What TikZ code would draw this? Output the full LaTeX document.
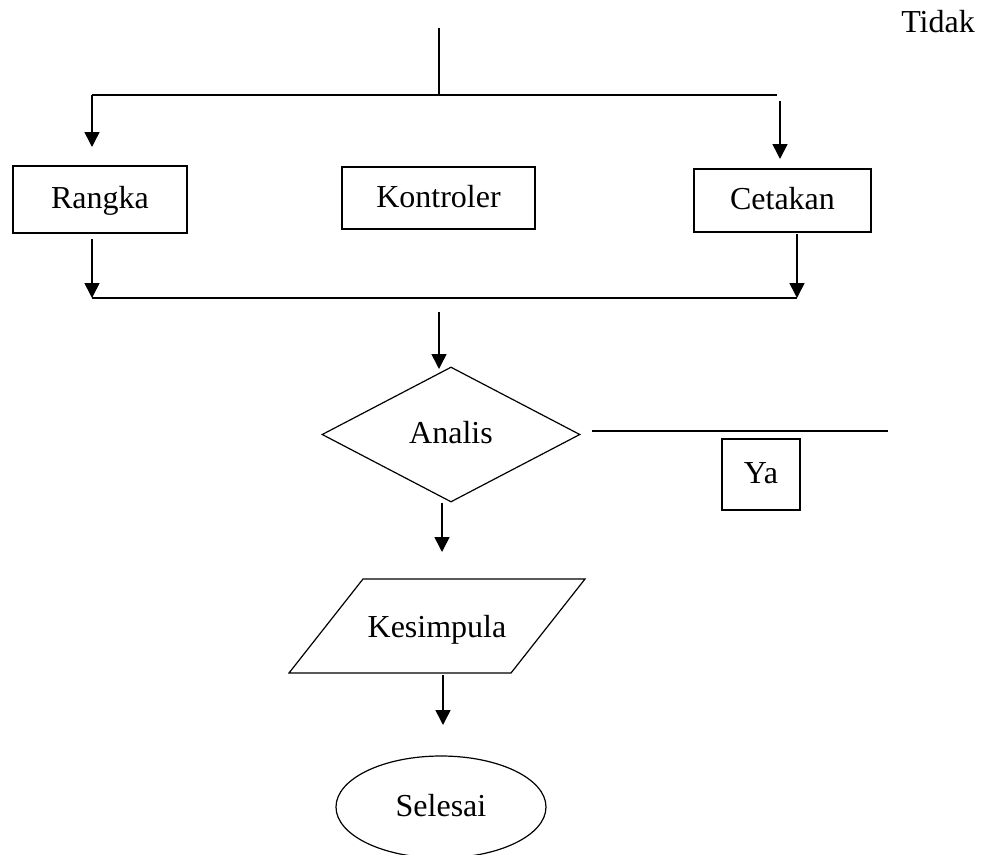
\documentclass[tikz,border=0pt]{standalone}
\usepackage{fontspec}
\setmainfont{Liberation Serif}
\usetikzlibrary{arrows.meta,shapes.geometric}

\begin{document}
\begin{tikzpicture}[x=1pt,y=-1pt,
    every node/.style={font=\fontsize{32}{38}\selectfont,text height=22pt,text depth=4pt},
    kotak/.style={draw,line width=1.2pt,inner sep=0pt},
    garis/.style={line width=1.6pt},
    panah/.style={line width=1.6pt,-{Triangle[width=15pt,length=15pt]}}
]

\useasboundingbox (0,0) rectangle (985,854);

\node (tidak) at (938,23) {Tidak};

\coordinate (atas) at (439,28);
\coordinate (cabang) at (439,95);
\coordinate (kiri1) at (92,95);
\coordinate (kanan1) at (777,95);
\coordinate (kiri2) at (92,147);
\coordinate (kanan2) at (780,101);
\coordinate (kanan3) at (780,159);

\draw[garis] (atas) -- (cabang);
\draw[garis] (kiri1) -- (kanan1);
\draw[panah] (kiri1) -- (kiri2);
\draw[panah] (kanan2) -- (kanan3);

\node[kotak,minimum width=174pt,minimum height=67pt] (rangka) at (100,199.5) {Rangka};
\node[kotak,minimum width=193pt,minimum height=62pt] (kontroler) at (438.5,198) {Kontroler};
\node[kotak,minimum width=177pt,minimum height=63pt] (cetakan) at (782.5,200.5) {Cetakan};

\coordinate (kiri4) at (92,239);
\coordinate (kiri5) at (92,298);
\coordinate (kanan4) at (797,234);
\coordinate (kanan5) at (797,298);

\draw[panah] (kiri4) -- (kiri5);
\draw[panah] (kanan4) -- (kanan5);
\draw[garis] (kiri5) -- (kanan5);

\coordinate (tengah1) at (439,312);
\coordinate (tengah2) at (439,369);
\draw[panah] (tengah1) -- (tengah2);

\node[kotak,diamond,minimum width=258pt,minimum height=135pt] (analis) at (451,434.5) {Analis};

\coordinate (ya1) at (592,431);
\coordinate (ya2) at (888,431);
\draw[garis] (ya1) -- (ya2);

\node[kotak,minimum width=78pt,minimum height=71pt] (ya) at (761,474.5) {Ya};

\coordinate (tengah3) at (442,503);
\coordinate (tengah4) at (442,552);
\draw[panah] (tengah3) -- (tengah4);

\node (kesimpula) at (437,628) {Kesimpula};
\draw[line width=1.2pt] (363,579) -- (585,579) -- (511,673) -- (289,673) -- cycle;

\coordinate (tengah5) at (443,675);
\coordinate (tengah6) at (443,725);
\draw[panah] (tengah5) -- (tengah6);

\node[kotak,ellipse,minimum width=210pt,minimum height=102pt] (selesai) at (441,807) {Selesai};

\end{tikzpicture}
\end{document}
